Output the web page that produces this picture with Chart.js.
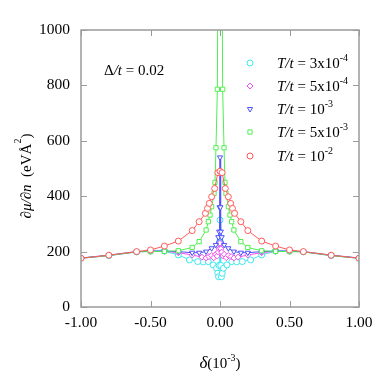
<!DOCTYPE html>
<html>
<head>
<meta charset="utf-8">
<script src="https://cdn.jsdelivr.net/npm/chart.js@4"></script>
<style>
  html, body { margin: 0; padding: 0; background: #fff; }
  #wrap { width: 389px; height: 382px; }
</style>
</head>
<body>
<div id="wrap"><canvas id="grafica"></canvas></div>
<script>
// delta (10^-3) positions and d mu / d n values for each temperature
const xCian = [-1, -0.8, -0.6, -0.5, -0.4, -0.3, -0.22, -0.16, -0.12, -0.085, -0.05, -0.025, -0.016, -0.01, -0.006, -0.003, 0,
               0.003, 0.006, 0.01, 0.016, 0.025, 0.05, 0.085, 0.12, 0.16, 0.22, 0.3, 0.4, 0.5, 0.6, 0.8, 1];
const yCian = [176, 185, 199, 202, 202, 188, 170, 164, 163, 164, 152, 140, 122, 109, 150, 230, 314,
               230, 150, 109, 122, 140, 152, 164, 163, 164, 170, 188, 202, 202, 199, 185, 176];

const xMagenta = [-1, -0.8, -0.6, -0.5, -0.4, -0.3, -0.2, -0.13, -0.1, -0.08, -0.06, -0.045, -0.03, -0.02, -0.012, -0.006, 0,
                  0.006, 0.012, 0.02, 0.03, 0.045, 0.06, 0.08, 0.1, 0.13, 0.2, 0.3, 0.4, 0.5, 0.6, 0.8, 1];
const yMagenta = [176, 186, 199, 201, 201, 196, 188, 180, 177, 182, 186, 178, 190, 184, 198, 210, 230,
                  210, 198, 184, 190, 178, 186, 182, 177, 180, 188, 196, 201, 201, 199, 186, 176];

const xAzul = [-1, -0.8, -0.6, -0.5, -0.4, -0.3, -0.2, -0.15, -0.1, -0.06, -0.03, -0.012, -0.006, -0.003, 0,
               0.003, 0.006, 0.012, 0.03, 0.06, 0.1, 0.15, 0.2, 0.3, 0.4, 0.5, 0.6, 0.8, 1];
const yAzul = [177, 187, 200, 202, 202, 200, 196, 196, 200, 212, 224, 252, 272, 360, 540,
               360, 272, 252, 224, 212, 200, 196, 196, 200, 202, 202, 200, 187, 177];

const xVerde = [-1, -0.8, -0.6, -0.5, -0.4, -0.3, -0.2, -0.15, -0.1, -0.084, -0.072, -0.06, -0.043, -0.036, -0.029, -0.019, -0.01,
                0.01, 0.019, 0.029, 0.036, 0.043, 0.06, 0.072, 0.084, 0.1, 0.15, 0.2, 0.3, 0.4, 0.5, 0.6, 0.8, 1];
const yVerde = [176, 186, 199, 200, 201, 203, 215, 236, 278, 308, 332, 362, 410, 450, 575, 786, 1800,
                1800, 786, 575, 450, 410, 362, 332, 308, 278, 236, 215, 203, 201, 200, 199, 186, 176];

const xRojo = [-1, -0.8, -0.6, -0.5, -0.4, -0.3, -0.2, -0.15, -0.105, -0.09, -0.077, -0.06, -0.038, -0.015, 0,
               0.015, 0.038, 0.06, 0.077, 0.09, 0.105, 0.15, 0.2, 0.3, 0.4, 0.5, 0.6, 0.8, 1];
const yRojo = [176, 187, 200, 206, 220, 238, 276, 308, 338, 356, 374, 398, 428, 485, 490,
               485, 428, 398, 374, 356, 338, 308, 276, 238, 220, 206, 200, 187, 176];

const etiquetas = [
    { base: '3x10', exp: '-4' },
    { base: '5x10', exp: '-4' },
    { base: '10', exp: '-3' },
    { base: '5x10', exp: '-3' },
    { base: '10', exp: '-2' }
];
const colores = ['#3ee8f0', '#f050f0', '#5050ff', '#50f050', '#ff5a5a'];
const estilos = ['circle', 'rectRot', 'triangle', 'rect', 'circle'];
const giros = [0, 0, 180, 0, 0];

const yTicks = [0, 200, 400, 600, 800, 1000];
const xTicks = [-1, -0.5, 0, 0.5, 1];

const FUENTE = '"Liberation Serif", "Times New Roman", serif';

function puntos(xs, ys) {
    return xs.map((x, i) => ({ x: x, y: ys[i] }));
}

const series = [
    puntos(xCian, yCian),
    puntos(xMagenta, yMagenta),
    puntos(xAzul, yAzul),
    puntos(xVerde, yVerde),
    puntos(xRojo, yRojo)
];

// caja, marcas hacia dentro, leyenda y titulos
const extras = {
    id: 'extras',
    afterDatasetsDraw(chart) {
        const ctx = chart.ctx;
        const a = chart.chartArea;
        const sx = chart.scales.x;
        const sy = chart.scales.y;
        const f = (s, it) => (it ? 'italic ' : '') + s + 'px ' + FUENTE;
        ctx.save();
        ctx.strokeStyle = '#9a9a9a';
        ctx.lineWidth = 1.5;
        ctx.strokeRect(a.left, a.top, a.right - a.left, a.bottom - a.top);
        ctx.lineWidth = 1;
        ctx.beginPath();
        yTicks.forEach(v => {
            const p = Math.round(sy.getPixelForValue(v)) + 0.5;
            ctx.moveTo(a.left, p); ctx.lineTo(a.left + 6, p);
            ctx.moveTo(a.right, p); ctx.lineTo(a.right - 6, p);
        });
        xTicks.forEach(v => {
            const p = Math.round(sx.getPixelForValue(v)) + 0.5;
            ctx.moveTo(p, a.bottom); ctx.lineTo(p, a.bottom - 6);
            ctx.moveTo(p, a.top); ctx.lineTo(p, a.top + 6);
        });
        ctx.stroke();

        ctx.fillStyle = '#000';
        ctx.textBaseline = 'alphabetic';
        ctx.textAlign = 'left';

        // Delta/t
        let x = 104;
        ctx.font = f(15);
        ctx.fillText('Δ', x, 75); x += ctx.measureText('Δ').width;
        ctx.font = f(15, true);
        ctx.fillText('/t', x, 75); x += ctx.measureText('/t').width;
        ctx.font = f(15);
        ctx.fillText(' = 0.02', x, 75);

        // leyenda
        const filas = [63, 86, 109, 132, 156];
        etiquetas.forEach((et, i) => {
            const cy = filas[i];
            ctx.strokeStyle = colores[i];
            ctx.fillStyle = '#fff';
            ctx.lineWidth = 1;
            Chart.helpers.drawPoint(ctx, { pointStyle: estilos[i], rotation: giros[i], radius: 3, borderWidth: 1 }, 250, cy);
            ctx.fillStyle = '#000';
            let tx = 277;
            const base = cy + 5;
            ctx.font = f(15, true);
            ctx.fillText('T/t', tx, base); tx += ctx.measureText('T/t').width;
            ctx.font = f(15);
            const txt = ' = ' + et.base;
            ctx.fillText(txt, tx, base); tx += ctx.measureText(txt).width;
            ctx.font = f(10);
            ctx.fillText(et.exp, tx, base - 7);
        });

        // titulo x
        ctx.font = f(17, true);
        let w1 = ctx.measureText('δ').width;
        ctx.font = f(15);
        let w2 = ctx.measureText('(10').width;
        ctx.font = f(10);
        let w3 = ctx.measureText('-3').width;
        ctx.font = f(15);
        let w4 = ctx.measureText(')').width;
        x = (a.left + a.right) / 2 - (w1 + w2 + w3 + w4) / 2;
        const by = 368;
        ctx.font = f(17, true);
        ctx.fillText('δ', x, by); x += w1;
        ctx.font = f(15);
        ctx.fillText('(10', x, by); x += w2;
        ctx.font = f(10);
        ctx.fillText('-3', x, by - 7); x += w3;
        ctx.font = f(15);
        ctx.fillText(')', x, by);

        // titulo y
        ctx.translate(31, 176);
        ctx.rotate(-Math.PI / 2);
        ctx.font = f(15, true);
        w1 = ctx.measureText('∂μ/∂n').width;
        ctx.font = f(15);
        w2 = ctx.measureText('  (eVÅ').width;
        ctx.font = f(10);
        w3 = ctx.measureText('2').width;
        ctx.font = f(15);
        w4 = ctx.measureText(')').width;
        x = -(w1 + w2 + w3 + w4) / 2;
        ctx.font = f(15, true);
        ctx.fillText('∂μ/∂n', x, 0); x += w1;
        ctx.font = f(15);
        ctx.fillText('  (eVÅ', x, 0); x += w2;
        ctx.font = f(10);
        ctx.fillText('2', x, -10); x += w3;
        ctx.font = f(15);
        ctx.fillText(')', x, 0);
        ctx.restore();
    }
};

function crearGrafica() {
    const ctx = document.getElementById('grafica').getContext('2d');
    const myChart = new Chart(ctx, {
        type: 'scatter',
        data: {
            datasets: series.map((datos, i) => ({
                data: datos,
                showLine: true,
                borderColor: colores[i],
                backgroundColor: colores[i],
                borderWidth: 1,
                pointStyle: estilos[i],
                rotation: giros[i],
                pointRadius: 3,
                pointBorderWidth: 1,
                pointBorderColor: colores[i],
                pointBackgroundColor: '#fff',
                tension: 0
            })).reverse()
        },
        options: {
            responsive: true,
            maintainAspectRatio: false,
            animation: false,
            events: [],
            layout: { padding: { left: 0, right: 30, top: 30, bottom: 0 } },
            plugins: {
                legend: { display: false },
                tooltip: { enabled: false }
            },
            scales: {
                x: {
                    type: 'linear',
                    min: -1,
                    max: 1,
                    afterFit: s => { s.height = 75; },
                    afterBuildTicks: s => { s.ticks = xTicks.map(v => ({ value: v })); },
                    grid: { display: false, drawTicks: false },
                    border: { display: false },
                    ticks: {
                        padding: 7,
                        color: '#000',
                        font: { family: FUENTE, size: 15.5 },
                        callback: v => v.toFixed(2)
                    }
                },
                y: {
                    min: 0,
                    max: 1000,
                    afterFit: s => { s.width = 81; },
                    afterBuildTicks: s => { s.ticks = yTicks.map(v => ({ value: v })); },
                    grid: { display: false, drawTicks: false },
                    border: { display: false },
                    ticks: {
                        padding: 11,
                        color: '#000',
                        font: { family: FUENTE, size: 15.5 },
                        callback: v => String(v)
                    }
                }
            }
        },
        plugins: [extras]
    });
}

Promise.all([
    document.fonts.load('14px "Liberation Serif"'),
    document.fonts.load('italic 14px "Liberation Serif"')
]).then(crearGrafica, crearGrafica);
</script>
</body>
</html>
